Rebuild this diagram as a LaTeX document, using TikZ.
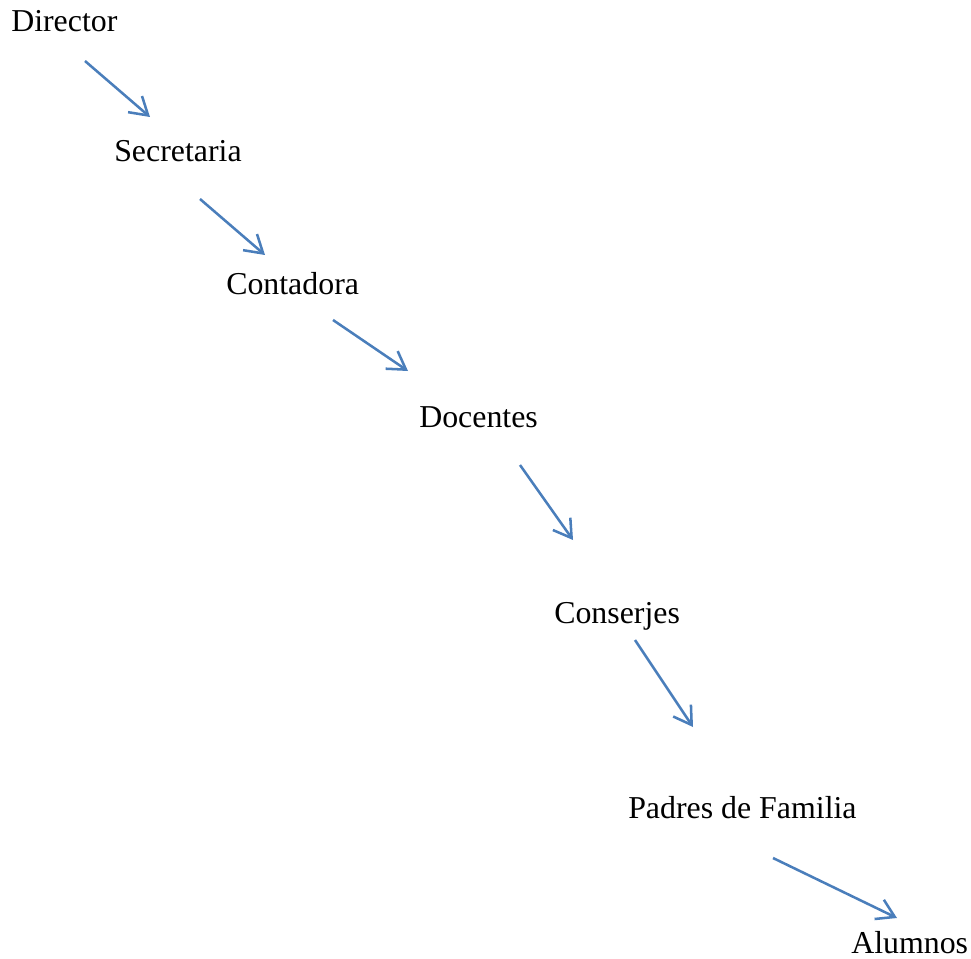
\documentclass[tikz,border=0pt]{standalone}
\usepackage{fontspec}
\setmainfont{Liberation Serif}
\usetikzlibrary{arrows.meta}
\definecolor{arrowblue}{RGB}{74,126,187}
\tikzset{
  lbl/.style={anchor=base west, inner sep=0pt, font=\fontsize{23.9}{28}\selectfont},
  conn/.style={draw=arrowblue, line width=1.9pt, -{Straight Barb[length=13pt,width=16pt,line width=1.9pt]}}
}
\begin{document}
\begin{tikzpicture}[x=0.75pt,y=-0.75pt]
\useasboundingbox (0,0) rectangle (971,959);
\node[lbl] (dir) at (11,32) {Director};
\node[lbl] (sec) at (114,162) {Secretaria};
\node[lbl] (con) at (226,295) {Contadora};
\node[lbl] (doc) at (419,427) {Docentes};
\node[lbl] (cjs) at (554,623) {Conserjes};
\node[lbl] (pad) at (628,818) {Padres de Familia};
\node[lbl] (alu) at (851,953) {Alumnos};
\coordinate (a1s) at (85,61);  \coordinate (a1e) at (150,117);
\coordinate (a2s) at (200,199); \coordinate (a2e) at (265,255);
\coordinate (a3s) at (333,320); \coordinate (a3e) at (408,371);
\coordinate (a4s) at (520,465); \coordinate (a4e) at (573,540);
\coordinate (a5s) at (635,640); \coordinate (a5e) at (693,727);
\coordinate (a6s) at (773,858); \coordinate (a6e) at (897,918);
\draw[conn] (a1s) -- (a1e);
\draw[conn] (a2s) -- (a2e);
\draw[conn] (a3s) -- (a3e);
\draw[conn] (a4s) -- (a4e);
\draw[conn] (a5s) -- (a5e);
\draw[conn] (a6s) -- (a6e);
\end{tikzpicture}
\end{document}
